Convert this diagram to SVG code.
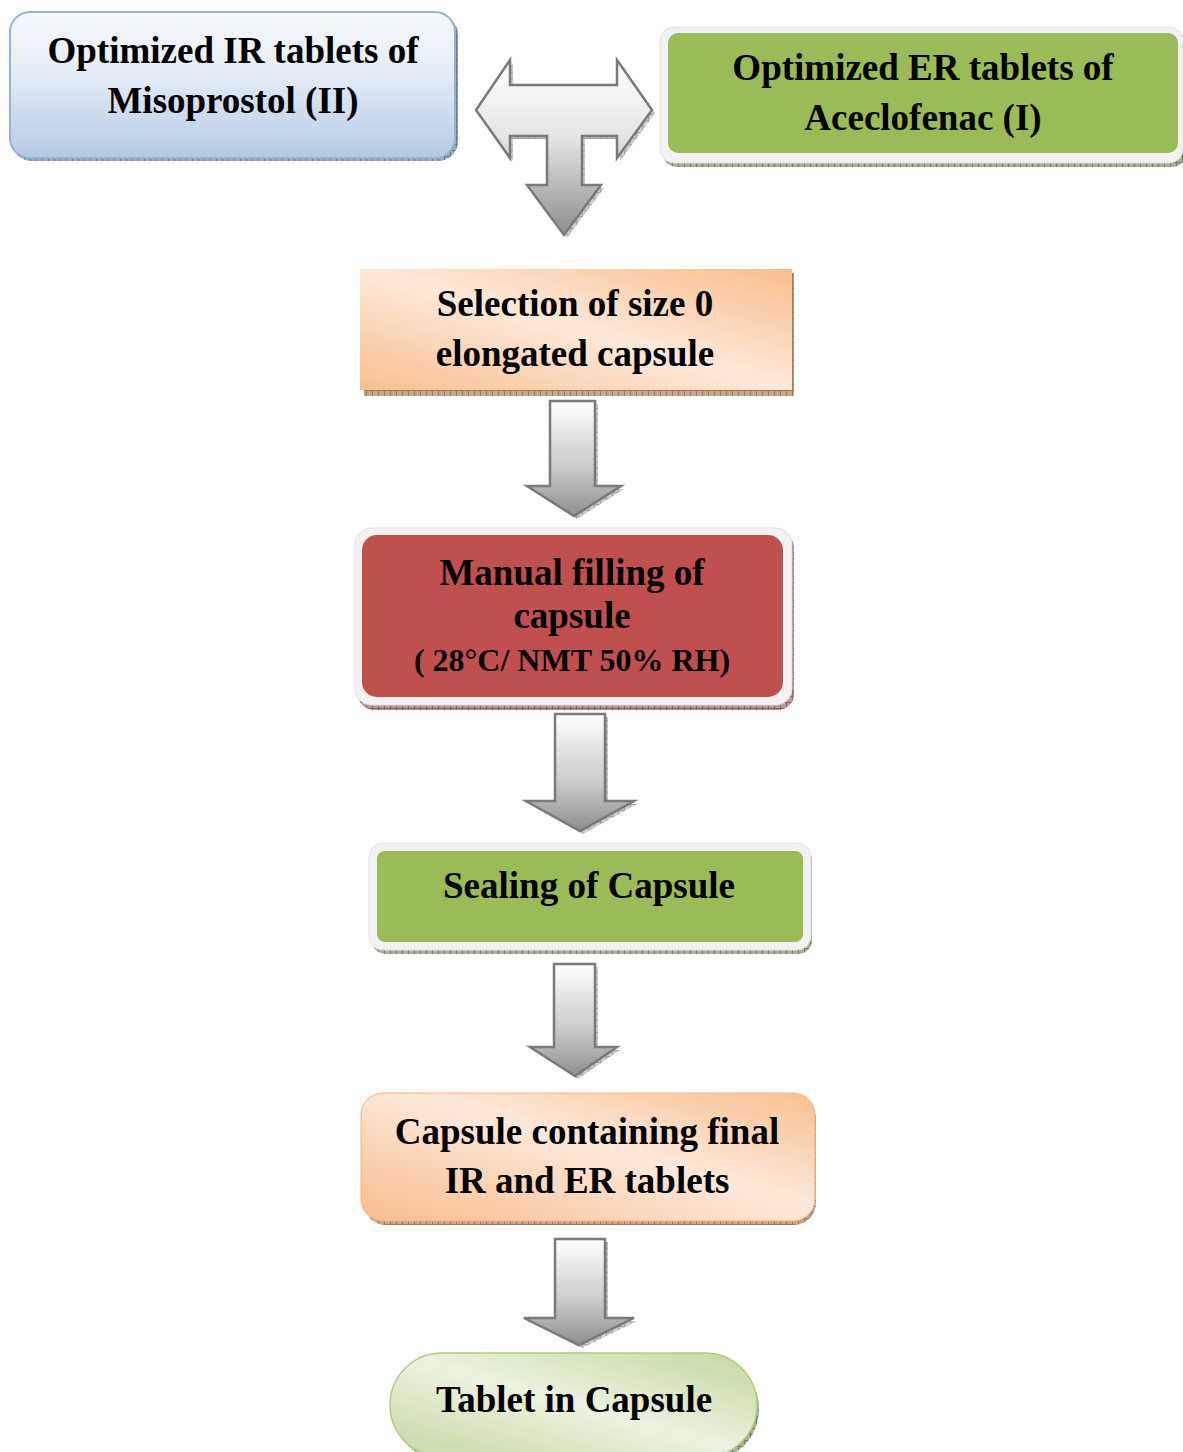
<svg xmlns="http://www.w3.org/2000/svg" width="1183" height="1452" viewBox="0 0 1183 1452">
<style>
.t{font-family:"Liberation Serif","Times New Roman",serif;font-weight:bold;font-size:37px;fill:#000;text-anchor:middle}
.ts{font-size:32px}
.arr{stroke:#7a7a7a;stroke-width:2.5;stroke-linejoin:miter}
.frame{fill:#f2f2f2;stroke:#e2e2e2;stroke-width:1}
</style>
<defs>
<pattern id="hg" width="6" height="6" patternUnits="userSpaceOnUse"><rect width="6" height="6" fill="#b8b8b8"/><path d="M0 0.5H6M0.5 0V6" stroke="#7d7d7d" stroke-width="1"/></pattern>
<pattern id="hb" width="6" height="6" patternUnits="userSpaceOnUse"><rect width="6" height="6" fill="#9fa8b8"/><path d="M0 0.5H6M0.5 0V6" stroke="#6c768a" stroke-width="1"/></pattern>
<pattern id="ho" width="6" height="6" patternUnits="userSpaceOnUse"><rect width="6" height="6" fill="#c8a68c"/><path d="M0 0.5H6M0.5 0V6" stroke="#9a7a62" stroke-width="1"/></pattern>
<pattern id="hr" width="6" height="6" patternUnits="userSpaceOnUse"><rect width="6" height="6" fill="#b89a9a"/><path d="M0 0.5H6M0.5 0V6" stroke="#8a6262" stroke-width="1"/></pattern>
<pattern id="hgr" width="6" height="6" patternUnits="userSpaceOnUse"><rect width="6" height="6" fill="#a8b098"/><path d="M0 0.5H6M0.5 0V6" stroke="#748060" stroke-width="1"/></pattern>
<linearGradient id="gBlue" x1="0" y1="0" x2="0" y2="1"><stop offset="0" stop-color="#f6f9fc"/><stop offset="0.45" stop-color="#e3ebf5"/><stop offset="1" stop-color="#b5c9e3"/></linearGradient>
<linearGradient id="gOr" x1="1" y1="0" x2="0" y2="1"><stop offset="0" stop-color="#f9bd8b"/><stop offset="0.5" stop-color="#fde9da"/><stop offset="1" stop-color="#f9bf8e"/></linearGradient>
<linearGradient id="gOr2" x1="0" y1="1" x2="1" y2="0"><stop offset="0" stop-color="#f9bd8b"/><stop offset="0.55" stop-color="#fde9da"/><stop offset="1" stop-color="#f9bf8e"/></linearGradient>
<linearGradient id="gLg" x1="1" y1="0" x2="0" y2="1"><stop offset="0" stop-color="#c4d79e"/><stop offset="0.5" stop-color="#ecf2e0"/><stop offset="1" stop-color="#c6d8a1"/></linearGradient>
<linearGradient id="gArr" x1="0" y1="0" x2="0" y2="1"><stop offset="0" stop-color="#ffffff"/><stop offset="0.6" stop-color="#c8c8c8"/><stop offset="1" stop-color="#8e8e8e"/></linearGradient>
<linearGradient id="gT" gradientUnits="userSpaceOnUse" x1="0" y1="60" x2="0" y2="235"><stop offset="0" stop-color="#ffffff"/><stop offset="0.45" stop-color="#e4e4e4"/><stop offset="1" stop-color="#8c8c8c"/></linearGradient>
</defs>

<g id="node-ir">
<rect x="12" y="15" width="446" height="146" rx="20" fill="url(#hb)"/>
<rect x="10" y="12" width="445" height="146" rx="20" fill="url(#gBlue)" stroke="#95b3d7" stroke-width="2"/>
<text class="t" x="233" y="63">Optimized IR tablets of</text>
<text class="t" x="233" y="113">Misoprostol (II)</text>
</g>

<g id="node-er">
<rect x="663" y="31" width="523" height="136" rx="14" fill="url(#hgr)"/>
<rect x="660" y="27" width="523" height="136" rx="14" class="frame"/>
<rect x="668" y="33" width="510" height="120" rx="10" fill="#9bbb59"/>
<text class="t" x="923" y="80">Optimized ER tablets of</text>
<text class="t" x="923" y="130">Aceclofenac (I)</text>
</g>

<g id="node-selection">
<rect x="364" y="273" width="430" height="123" fill="url(#ho)"/>
<rect x="360" y="269" width="432" height="121" fill="url(#gOr)"/>
<text class="t" x="575" y="316">Selection of size 0</text>
<text class="t" x="575" y="366">elongated capsule</text>
</g>

<g id="node-filling">
<rect x="358" y="532" width="436" height="178" rx="16" fill="url(#hr)"/>
<rect x="355" y="528" width="437" height="177" rx="16" class="frame"/>
<rect x="362" y="535" width="421" height="162" rx="15" fill="#c0504d"/>
<text class="t" x="572" y="585">Manual filling of</text>
<text class="t" x="572" y="628">capsule</text>
<text class="t ts" x="572" y="671">( 28°C/ NMT 50% RH)</text>
</g>

<g id="node-sealing">
<rect x="372" y="847" width="440" height="107" rx="14" fill="url(#hgr)"/>
<rect x="369" y="843" width="442" height="107" rx="14" class="frame"/>
<rect x="377" y="851" width="426" height="91" rx="8" fill="#9bbb59"/>
<text class="t" x="589" y="898">Sealing of Capsule</text>
</g>

<g id="node-capsule">
<rect x="364" y="1097" width="452" height="128" rx="22" fill="url(#ho)"/>
<rect x="361" y="1093" width="454" height="128" rx="22" fill="url(#gOr2)" stroke="#f4b183" stroke-width="1"/>
<text class="t" x="587" y="1144">Capsule containing final</text>
<text class="t" x="587" y="1193">IR and ER tablets</text>
</g>

<g id="node-tablet">
<rect x="393" y="1357" width="366" height="104" rx="52" fill="url(#hgr)"/>
<rect x="390" y="1353" width="367" height="104" rx="52" fill="url(#gLg)" stroke="#b4cc82" stroke-width="1.5"/>
<text class="t" x="574" y="1412">Tablet in Capsule</text>
</g>

<g id="connectors">
<g id="t-arrow">
<path d="M479,113 L513,63 L513,88 L620,88 L620,63 L655,113 L620,161 L620,139 L585,139 L585,188 L604,188 L567,238 L530,188 L550,188 L550,139 L513,139 L513,161 Z" fill="url(#hg)" opacity="0.7"/>
<path class="arr" d="M476,110 L510,60 L510,85 L617,85 L617,60 L652,110 L617,158 L617,136 L582,136 L582,185 L601,185 L564,235 L527,185 L547,185 L547,136 L510,136 L510,158 Z" fill="url(#gT)"/>
</g>
<g id="arrow-1">
<path d="M553,404 L598,404 L598,489 L624,489 L577,519 L530,489 L553,489 Z" fill="url(#hg)" opacity="0.7"/>
<path class="arr" d="M550,401 L595,401 L595,486 L621,486 L574,516 L527,486 L550,486 Z" fill="url(#gArr)"/>
</g>
<g id="arrow-2">
<path d="M558,717 L608,717 L608,804 L637,804 L583,834 L529,804 L558,804 Z" fill="url(#hg)" opacity="0.7"/>
<path class="arr" d="M555,714 L605,714 L605,801 L634,801 L580,831 L526,801 L555,801 Z" fill="url(#gArr)"/>
</g>
<g id="arrow-3">
<path d="M557,967 L598,967 L598,1050 L620,1050 L578,1079 L533,1050 L557,1050 Z" fill="url(#hg)" opacity="0.7"/>
<path class="arr" d="M554,964 L595,964 L595,1047 L617,1047 L575,1076 L530,1047 L554,1047 Z" fill="url(#gArr)"/>
</g>
<g id="arrow-4">
<path d="M558,1242 L608,1242 L608,1321 L637,1321 L582,1348 L527,1321 L558,1321 Z" fill="url(#hg)" opacity="0.7"/>
<path class="arr" d="M555,1239 L605,1239 L605,1318 L634,1318 L579,1345 L524,1318 L555,1318 Z" fill="url(#gArr)"/>
</g>
</g>
</svg>
